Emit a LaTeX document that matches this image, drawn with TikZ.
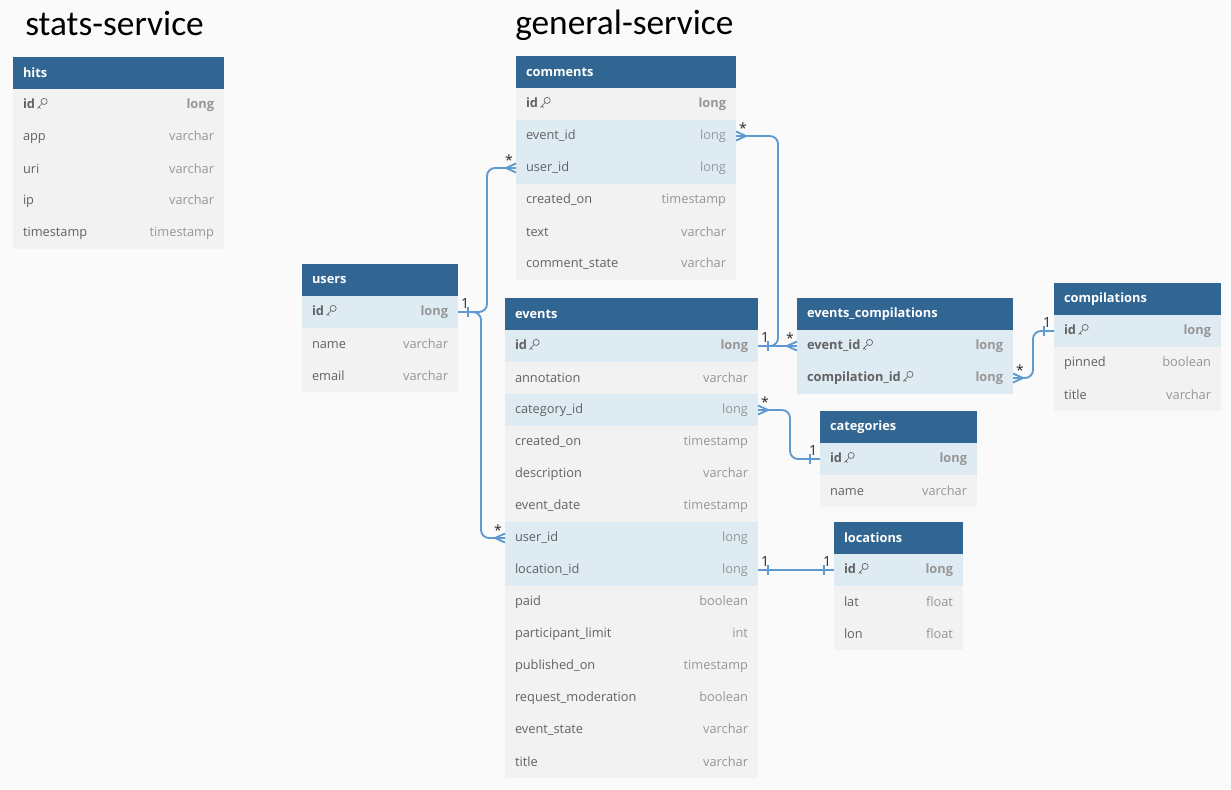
\documentclass[tikz,border=0pt]{standalone}
\usepackage{fontspec}
\setmainfont{Open Sans}
\newfontfamily\titlefont{Carlito}
\usepackage{tikz}
\usetikzlibrary{calc}
\definecolor{headblue}{RGB}{49,102,146}
\definecolor{linkblue}{RGB}{94,153,207}
\definecolor{rowgray}{RGB}{242,242,242}
\definecolor{rowblue}{RGB}{222,235,243}
\definecolor{pagegray}{RGB}{250,250,250}
\definecolor{namegray}{RGB}{98,98,98}
\definecolor{typegray}{RGB}{150,150,150}
\definecolor{cardgray}{RGB}{40,40,40}
\newcommand{\rowfont}{\fontsize{9.6}{11}\selectfont}
\newcommand{\keyicon}{\tikz[baseline=0pt, x=1pt, y=1pt, line width=0.5pt]{
  \draw[namegray] (5.5,5.6) circle (2.3);
  \draw[namegray] (3.9,3.9) -- (0.5,0.4) (1.5,1.4) -- (2.7,0.2);}}
\newcommand{\fld}[2]{\noindent\textcolor{namegray}{#1}\hskip 0pt plus 1filll\textcolor{typegray}{#2}}
\newcommand{\dbtable}[6]{%
  \pgfmathsetmacro{\tw}{(#5-20)*0.75}
  \node[tablehead, text width=\tw pt] (#1) at (#3,#4) {#2};
  \foreach \fname/\ftype/\fstyle [count=\i] in {#6}
    \node[tablerow, \fstyle, text width=\tw pt] (#1-\i) at (#3,#4+32*\i) {\fld{\fname}{\ftype}};
}
\newcommand{\onemark}[3]{%
  \draw[link] ($(#1)+(#2*10,-5)$) -- ($(#1)+(#2*10,5)$);
  \node[card] (#3) at ($(#1)+(#2*7,-4)$) {1};
}
\newcommand{\manymark}[3]{%
  \draw[link] ($(#1)+(#2*10,0)$) -- ($(#1)+(0,-4.5)$)
              ($(#1)+(#2*10,0)$) -- ($(#1)+(0,4.5)$);
  \node[card] (#3) at ($(#1)+(#2*7,-3)$) {*};
}

\begin{document}
\begin{tikzpicture}[
  x=0.75pt, y=-0.75pt,
  tablehead/.style={
    anchor=north west,
    fill=headblue,
    text=white,
    font=\rowfont\bfseries,
    inner xsep=7.5pt,
    inner ysep=0pt,
    minimum height=24pt,
    outer sep=0pt
  },
  tablerow/.style={
    anchor=north west,
    font=\rowfont,
    inner xsep=7.5pt,
    inner ysep=0pt,
    minimum height=24pt,
    outer sep=0pt
  },
  plainrow/.style={fill=rowgray},
  linkrow/.style={fill=rowblue},
  keyrow/.style={fill=rowgray, font=\rowfont\bfseries},
  linkkeyrow/.style={fill=rowblue, font=\rowfont\bfseries},
  title/.style={anchor=west, font=\titlefont\fontsize{26.5}{30}\selectfont, inner sep=0pt},
  link/.style={draw=linkblue, line width=1.4pt, rounded corners=6pt},
  card/.style={anchor=base, inner sep=0pt, text=cardgray, font=\fontsize{10.5}{12}\selectfont}
]

\fill[pagegray] (0,0) rectangle (1231,789);
\useasboundingbox (0,0) rectangle (1231,789);

\node[title] (stats) at (25,23) {stats-service};
\node[title] (general) at (515,25) {general-service};

\dbtable{hits}{hits}{13}{57}{211}{
  id\,\keyicon/long/keyrow, app/varchar/plainrow, uri/varchar/plainrow,
  ip/varchar/plainrow, timestamp/timestamp/plainrow}
\dbtable{comments}{comments}{516}{56}{220}{
  id\,\keyicon/long/keyrow, event\_id/long/linkrow, user\_id/long/linkrow,
  created\_on/timestamp/plainrow, text/varchar/plainrow, comment\_state/varchar/plainrow}
\dbtable{users}{users}{302}{264}{156}{
  id\,\keyicon/long/linkkeyrow, name/varchar/plainrow, email/varchar/plainrow}
\dbtable{events}{events}{505}{298}{253}{
  id\,\keyicon/long/linkkeyrow, annotation/varchar/plainrow, category\_id/long/linkrow,
  created\_on/timestamp/plainrow, description/varchar/plainrow, event\_date/timestamp/plainrow,
  user\_id/long/linkrow, location\_id/long/linkrow, paid/boolean/plainrow,
  participant\_limit/int/plainrow, published\_on/timestamp/plainrow,
  request\_moderation/boolean/plainrow, event\_state/varchar/plainrow, title/varchar/plainrow}
\dbtable{evcomp}{events\_compilations}{797}{298}{216}{
  event\_id\,\keyicon/long/linkkeyrow, compilation\_id\,\keyicon/long/linkkeyrow}
\dbtable{compilations}{compilations}{1054}{283}{167}{
  id\,\keyicon/long/linkkeyrow, pinned/boolean/plainrow, title/varchar/plainrow}
\dbtable{categories}{categories}{820}{411}{157}{
  id\,\keyicon/long/linkkeyrow, name/varchar/plainrow}
\dbtable{locations}{locations}{834}{522}{129}{
  id\,\keyicon/long/linkkeyrow, lat/float/plainrow, lon/float/plainrow}

\draw[link] (users-1.east) -- ++(29,0) |- (comments-3.west);
\draw[link] (users-1.east) -- ++(23,0) |- (events-7.west);
\draw[link] (events-1.east) -- ++(20,0) |- (comments-2.east);
\draw[link] (events-1.east) -- (evcomp-1.west);
\draw[link] (compilations-1.west) -- ++(-21,0) |- (evcomp-2.east);
\draw[link] (categories-1.west) -- ++(-30,0) |- (events-3.east);
\draw[link] (events-8.east) -- (locations-1.west);

\onemark{users-1.east}{1}{users-one}
\manymark{comments-3.west}{-1}{comments-user-many}
\manymark{events-7.west}{-1}{events-user-many}
\onemark{events-1.east}{1}{events-one}
\manymark{comments-2.east}{1}{comments-event-many}
\manymark{evcomp-1.west}{-1}{evcomp-event-many}
\onemark{compilations-1.west}{-1}{compilations-one}
\manymark{evcomp-2.east}{1}{evcomp-compilation-many}
\onemark{categories-1.west}{-1}{categories-one}
\manymark{events-3.east}{1}{events-category-many}
\onemark{events-8.east}{1}{events-location-one}
\onemark{locations-1.west}{-1}{locations-one}

\end{tikzpicture}
\end{document}
